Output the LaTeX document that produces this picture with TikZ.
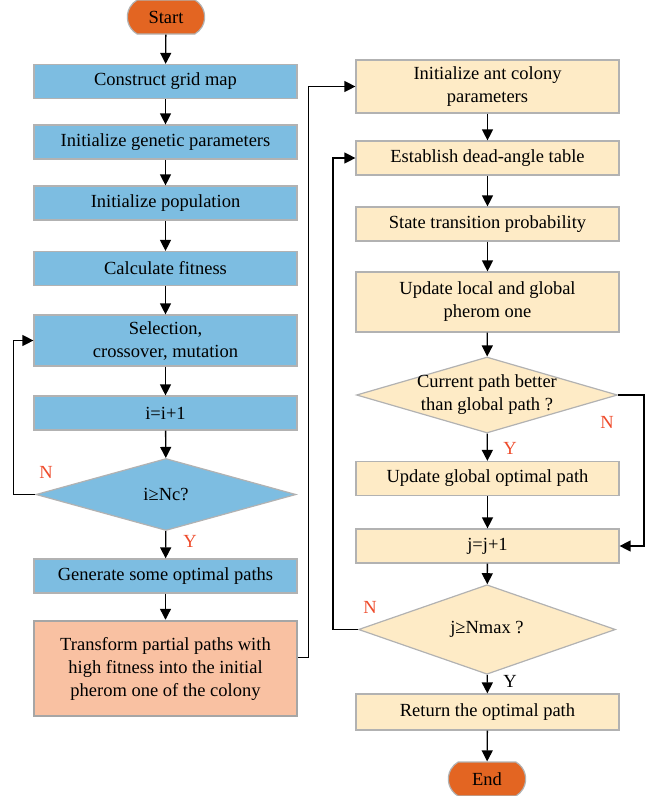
\documentclass[tikz,border=0pt]{standalone}
\usepackage{fontspec}
\setmainfont{Liberation Serif}
\usetikzlibrary{positioning,shapes.geometric,shapes.misc,arrows.meta}
\definecolor{gablue}{HTML}{7DBDE1}
\definecolor{acyellow}{HTML}{FEEBC6}
\definecolor{salmon}{HTML}{F9C1A2}
\definecolor{termorange}{HTML}{E36522}
\definecolor{labred}{HTML}{EE4B2B}

\begin{document}
\begin{tikzpicture}[x=1pt,y=-1pt,
  font=\fontsize{18.5}{23}\selectfont,
  proc/.style={draw=black!30, line width=1.2pt, rectangle, minimum width=263pt,
    minimum height=34pt, align=center, inner sep=2pt},
  ga/.style={proc, fill=gablue},
  ac/.style={proc, fill=acyellow},
  decision/.style={diamond, draw=black!30, line width=1.2pt, minimum width=260pt,
    minimum height=72pt, inner sep=0pt, align=center},
  terminal/.style={rounded rectangle, rounded rectangle arc length=120,
    draw=black!30, line width=1.2pt, fill=termorange, minimum width=84pt, minimum height=34pt},
  flow/.style={-{Triangle[width=11pt,length=11pt]}, line width=1.3pt},
  yn/.style={text=labred}]
\useasboundingbox (0,0) rectangle (661,796);
% genetic algorithm column
\node[terminal] (start) at (166,17) {Start};
\node[ga] (grid) at (165.5,81.5) {Construct grid map};
\node[ga] (gapar) at (165.5,142) {Initialize genetic parameters};
\node[ga] (pop) at (165.5,203) {Initialize population};
\node[ga] (fit) at (165.5,268.5) {Calculate fitness};
\node[ga, minimum height=51pt] (sel) at (165.5,340.5) {Selection,\\crossover, mutation};
\node[ga] (inci) at (165.5,413) {i=i+1};
\node[decision, fill=gablue] (chki) at (166,494.5) {i≥Nc?};
\node[ga] (gen) at (165.5,576) {Generate some optimal paths};
\node[proc, fill=salmon, draw=black!35, line width=2.5pt, minimum height=95pt] (trans)
  at (165.5,668.5) {Transform partial paths with\\high fitness into the initial\\pherom one of the colony};
% ant colony column
\node[ac, minimum height=53pt] (acpar) at (487.5,86.5) {Initialize ant colony\\parameters};
\node[ac] (dead) at (487.5,158) {Establish dead-angle table};
\node[ac] (prob) at (487.5,224) {State transition probability};
\node[ac, minimum height=60pt] (upd) at (487.5,302) {Update local and global\\pherom one};
\node[decision, fill=acyellow, minimum width=261pt, minimum height=76pt,
  label={[align=center]center:Current path better\\than global path ?}] (better) at (487,395) {};
\node[ac] (glob) at (487.5,478.5) {Update global optimal path};
\node[ac] (incj) at (487.5,546) {j=j+1};
\node[decision, fill=acyellow, minimum width=257pt] (chkj) at (487,629.5) {j≥Nmax ?};
\node[ac, minimum height=36pt] (ret) at (487.5,712) {Return the optimal path};
\node[terminal] (end) at (487,779) {End};

\foreach \a/\b in {start/grid,grid/gapar,gapar/pop,pop/fit,fit/sel,sel/inci,inci/chki,
  chki/gen,gen/trans,acpar/dead,dead/prob,prob/upd,upd/better,better/glob,glob/incj,
  incj/chkj,chkj/ret,ret/end} {
  \draw[flow] (\a) -- (\b);
}
\draw[flow] (chki.west) -- ++(-22,0) |- (sel.west);
\draw[flow] ([yshift=11pt]trans.east) -- ++(10,0) |- (acpar.west);
\draw[flow] (better.east) -- ++(26,0) |- (incj.east);
\draw[flow] (chkj.west) -- ++(-25,0) |- (dead.west);

\node[yn] (ni) at (46,472) {N};
\node[yn] (yi) at (190,541) {Y};
\node[yn] (yb) at (510,448) {Y};
\node[yn] (nb) at (607,422) {N};
\node[yn] (nj) at (370,607) {N};
\node (yj) at (510,681) {Y};
\end{tikzpicture}
\end{document}
